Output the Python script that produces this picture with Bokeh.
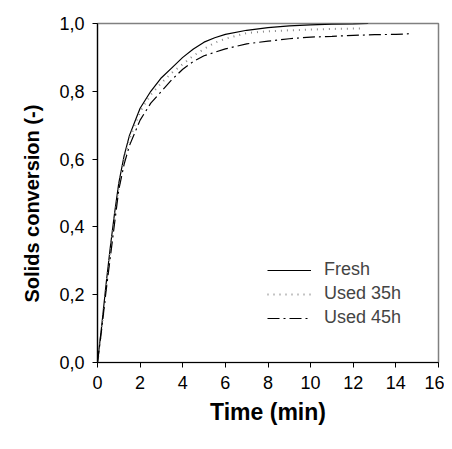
from bokeh.plotting import figure
from bokeh.models import Range1d, FixedTicker, CustomJSTickFormatter, Legend, LegendItem, Title
from bokeh.embed import file_html
from bokeh.resources import INLINE

# Data
fresh_t = [0, 0.2, 0.4, 0.6, 0.8, 1.0, 1.25, 1.5, 1.75, 2.0, 2.5, 3.0, 3.5, 4.0, 4.5,
           5.0, 5.5, 6.0, 7.0, 8.0, 9.0, 10.0, 11.0, 12.0, 12.7]
fresh_x = [0, 0.11, 0.23, 0.34, 0.44, 0.53, 0.61, 0.67, 0.71, 0.75, 0.80, 0.84, 0.87,
           0.90, 0.925, 0.945, 0.958, 0.968, 0.98, 0.988, 0.993, 0.996, 0.998, 0.999, 1.0]

used35_t = [0, 0.2, 0.4, 0.6, 0.8, 1.0, 1.25, 1.5, 1.75, 2.0, 2.5, 3.0, 3.5, 4.0, 4.5,
            5.0, 5.5, 6.0, 7.0, 8.0, 9.0, 10.0, 11.0, 12.0, 12.5]
used35_x = [0, 0.105, 0.22, 0.33, 0.43, 0.52, 0.60, 0.66, 0.70, 0.74, 0.79, 0.825, 0.855,
            0.88, 0.905, 0.925, 0.943, 0.955, 0.972, 0.977, 0.980, 0.982, 0.984, 0.985, 0.985]

used45_t = [0, 0.2, 0.4, 0.6, 0.8, 1.0, 1.25, 1.5, 2.0, 2.5, 3.0, 3.5, 4.0, 4.5, 5.0,
            5.5, 6.0, 7.0, 8.0, 9.0, 10.0, 11.0, 12.0, 13.0, 14.0, 14.7]
used45_x = [0, 0.10, 0.21, 0.31, 0.41, 0.51, 0.585, 0.64, 0.715, 0.765, 0.80, 0.835, 0.865,
            0.888, 0.905, 0.915, 0.925, 0.94, 0.948, 0.955, 0.96, 0.962, 0.965, 0.967, 0.968, 0.97]

x_ticks = [0, 2, 4, 6, 8, 10, 12, 14, 16]
y_ticks = [0.0, 0.2, 0.4, 0.6, 0.8, 1.0]
series_names = ["Fresh", "Used 35h", "Used 45h"]
x_title = "Time (min)"
y_title = "Solids conversion (-)"

FONT = "Liberation Sans"

p = figure(width=444, height=441, output_backend="svg", toolbar_location=None,
           x_range=Range1d(0, 16), y_range=Range1d(0, 1),
           min_border_left=97, min_border_right=6, min_border_top=23, min_border_bottom=79)

p.xgrid.visible = False
p.ygrid.visible = False
p.outline_line_color = "#808080"
p.outline_line_width = 1.5
p.background_fill_color = "white"
p.border_fill_color = "white"

r1 = p.line(fresh_t, fresh_x, line_color="black", line_width=1.2)
r2 = p.line(used35_t, used35_x, line_color="#8a8a8a", line_width=2, line_dash="1 5")
r3 = p.line(used45_t, used45_x, line_color="black", line_width=1.2, line_dash="12 4 2 4")

for ax in (p.xaxis[0], p.yaxis[0]):
    ax.axis_line_color = "black"
    ax.axis_line_width = 1.2
    ax.major_tick_line_color = "black"
    ax.major_tick_out = 5
    ax.major_tick_in = 0
    ax.minor_tick_line_color = None
    ax.major_label_text_font = FONT
    ax.major_label_text_font_size = "18px"
    ax.major_label_text_color = "black"
    ax.axis_label_text_font = FONT
    ax.axis_label_text_font_style = "bold"
    ax.axis_label_text_color = "black"

p.xaxis[0].axis_label_text_font_size = "23px"
p.xaxis[0].ticker = FixedTicker(ticks=x_ticks)
p.yaxis[0].ticker = FixedTicker(ticks=y_ticks)
p.yaxis[0].formatter = CustomJSTickFormatter(code="return tick.toFixed(1).replace('.', ',');")
p.xaxis[0].axis_label = x_title
p.xaxis[0].major_label_standoff = 8
p.yaxis[0].major_label_standoff = 8
p.xaxis[0].axis_label_standoff = 7

ytitle = Title(text=y_title, align="left", offset=60, standoff=27,
               text_font=FONT, text_font_size="20px", text_font_style="bold",
               text_color="black")
p.add_layout(ytitle, "left")

legend = Legend(items=[LegendItem(label=series_names[0], renderers=[r1]),
                       LegendItem(label=series_names[1], renderers=[r2]),
                       LegendItem(label=series_names[2], renderers=[r3])],
                location=(170, 34), border_line_color=None, background_fill_alpha=0,
                label_text_font=FONT, label_text_font_size="18px", glyph_width=44,
                spacing=3, label_standoff=13)
p.add_layout(legend)

open("out.html", "w").write(file_html(p, INLINE))
